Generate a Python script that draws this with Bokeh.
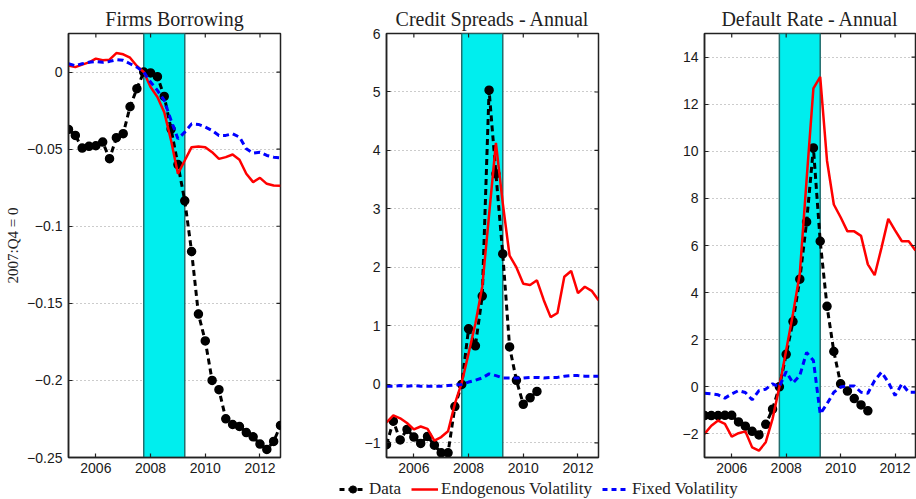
import math
from bokeh.plotting import figure
from bokeh.models import Range1d, FixedTicker, Legend, LegendItem
from bokeh.layouts import column, row
from bokeh.embed import file_html
from bokeh.resources import INLINE

nan = float("nan")

quarters = [2005.0, 2005.25, 2005.5, 2005.75, 2006.0, 2006.25, 2006.5, 2006.75,
            2007.0, 2007.25, 2007.5, 2007.75, 2008.0, 2008.25, 2008.5, 2008.75,
            2009.0, 2009.25, 2009.5, 2009.75, 2010.0, 2010.25, 2010.5, 2010.75,
            2011.0, 2011.25, 2011.5, 2011.75, 2012.0, 2012.25, 2012.5, 2012.75]

recession_start = [2007.75]
recession_end = [2009.25]

titles = ["Firms Borrowing", "Credit Spreads - Annual", "Default Rate - Annual"]
y_axis_label = "2007:Q4 = 0"
legend_labels = ["Data", "Endogenous Volatility", "Fixed Volatility"]

x_ticks = [2006, 2008, 2010, 2012]
x_tick_labels = ["2006", "2008", "2010", "2012"]

# Panel 1: Firms Borrowing
borrow_data = [-0.0372, -0.0411, -0.0493, -0.0482, -0.0478, -0.0454, -0.0562, -0.0426,
               -0.0400, -0.0225, -0.0108, 0.0, -0.0006, -0.0030, -0.0158, -0.0370,
               -0.0600, -0.0835, -0.1164, -0.1570, -0.1744, -0.2000, -0.2060, -0.2249,
               -0.2286, -0.2299, -0.2338, -0.2366, -0.2413, -0.2448, -0.2396, -0.2292]
borrow_endo = [0.0043, 0.0032, 0.0048, 0.0063, 0.0087, 0.0076, 0.0080, 0.0123,
               0.0115, 0.0093, 0.0039, 0.0, -0.0097, -0.0162, -0.0260, -0.0444,
               -0.0660, -0.0574, -0.0487, -0.0483, -0.0487, -0.0520, -0.0563, -0.0552,
               -0.0535, -0.0569, -0.0660, -0.0714, -0.0686, -0.0725, -0.0736, -0.0738]
borrow_fixed = [0.0054, 0.0041, 0.0054, 0.0063, 0.0069, 0.0063, 0.0069, 0.0080,
                0.0076, 0.0054, 0.0032, 0.0, -0.0065, -0.0119, -0.0184, -0.0314,
                -0.0433, -0.0390, -0.0336, -0.0340, -0.0357, -0.0379, -0.0411, -0.0411,
                -0.0400, -0.0422, -0.0498, -0.0526, -0.0520, -0.0541, -0.0552, -0.0556]
borrow_yrange = [-0.25, 0.025]
borrow_ticks = [-0.25, -0.2, -0.15, -0.1, -0.05, 0]
borrow_tick_labels = ["\u22120.25", "\u22120.2", "\u22120.15", "\u22120.1", "\u22120.05", "0"]

# Panel 2: Credit Spreads
spread_data = [-1.03, -0.63, -0.95, -0.77, -0.90, -1.01, -0.89, -1.04,
               -1.17, -1.17, -0.38, 0.0, 0.95, 0.66, 1.51, 5.03,
               3.60, 2.23, 0.64, 0.07, -0.34, -0.23, -0.12, nan,
               nan, nan, nan, nan, nan, nan, nan, nan]
spread_endo = [-0.65, -0.53, -0.58, -0.66, -0.77, -0.72, -0.76, -0.96,
               -0.90, -0.80, -0.33, 0.03, 0.53, 1.04, 1.67, 2.90,
               4.13, 3.10, 2.20, 2.00, 1.72, 1.70, 1.78, 1.44,
               1.15, 1.22, 1.84, 1.94, 1.56, 1.67, 1.60, 1.44]
spread_fixed = [-0.03, -0.03, -0.02, -0.03, -0.02, -0.03, -0.03, -0.03,
                -0.03, -0.02, -0.01, 0.0, 0.04, 0.07, 0.11, 0.18,
                0.15, 0.11, 0.11, 0.11, 0.11, 0.12, 0.12, 0.11,
                0.12, 0.12, 0.14, 0.15, 0.15, 0.14, 0.14, 0.14]
spread_yrange = [-1.25, 6]
spread_ticks = [-1, 0, 1, 2, 3, 4, 5, 6]
spread_tick_labels = ["\u22121", "0", "1", "2", "3", "4", "5", "6"]

# Panel 3: Default Rate
default_data = [-1.22, -1.22, -1.22, -1.21, -1.21, -1.49, -1.67, -1.89,
                -2.04, -1.59, -0.95, 0.0, 1.38, 2.77, 4.57, 7.00,
                10.14, 6.18, 3.42, 1.50, 0.13, -0.18, -0.50, -0.77,
                -1.02, nan, nan, nan, nan, nan, nan, nan]
default_endo = [-2.00, -1.65, -1.43, -1.57, -2.11, -1.97, -1.89, -2.57,
                -2.71, -2.35, -1.36, 0.0, 1.55, 3.10, 4.80, 8.80,
                12.67, 13.16, 9.60, 7.74, 7.20, 6.60, 6.60, 6.41,
                5.20, 4.74, 5.90, 7.13, 6.64, 6.18, 6.18, 5.79]
default_fixed = [-0.27, -0.30, -0.34, -0.48, -0.30, -0.16, -0.24, -0.55,
                 -0.16, -0.10, 0.13, 0.0, 0.65, 0.16, 0.48, 1.46,
                 1.12, -1.15, -0.72, -0.23, -0.01, 0.04, 0.04, -0.23,
                 -0.27, 0.27, 0.62, 0.20, -0.37, 0.13, -0.23, -0.23]
default_yrange = [-3, 15]
default_ticks = [-2, 0, 2, 4, 6, 8, 10, 12, 14]
default_tick_labels = ["\u22122", "0", "2", "4", "6", "8", "10", "12", "14"]

TICK_FONT = "Liberation Sans"
SERIF = "Liberation Serif"
DATA_COLOR = "black"
ENDO_COLOR = "#FF0000"
FIXED_COLOR = "#0000FF"
SHADE = "#00EEEE"
FRAME = "#222222"


def make_panel(title, data, endo, fixed, yr, yticks, ylabels, width, left, right, ylab=None):
    p = figure(width=width, height=478, output_backend="svg", toolbar_location=None,
               x_range=Range1d(quarters[0], quarters[-1]), y_range=Range1d(yr[0], yr[1]),
               min_border_left=left, min_border_right=right, min_border_top=33,
               min_border_bottom=21, title=title)
    p.title.text_font = SERIF
    p.title.text_font_size = "20px"
    p.title.text_font_style = "normal"
    p.title.align = "center"
    p.title.text_color = FRAME
    p.title.standoff = 7
    p.outline_line_color = FRAME
    p.outline_line_width = 1.5
    p.background_fill_color = "white"
    p.border_fill_color = "white"

    p.xgrid.grid_line_color = None
    p.ygrid.grid_line_color = "#999999"
    p.ygrid.grid_line_dash = "1 3"
    p.ygrid.grid_line_width = 1
    p.ygrid.ticker = FixedTicker(ticks=yticks)

    for ax in (p.xaxis[0], p.yaxis[0]):
        ax.major_tick_in = 4
        ax.major_tick_out = 0
        ax.minor_tick_line_color = None
        ax.axis_line_color = FRAME
        ax.axis_line_width = 1.5
        ax.major_tick_line_color = FRAME
        ax.major_tick_line_width = 1.2
        ax.major_label_text_font = TICK_FONT
        ax.major_label_text_font_size = "14px"
        ax.major_label_text_color = "#1a1a1a"
    p.xaxis.ticker = FixedTicker(ticks=x_ticks)
    p.xaxis.major_label_overrides = dict(zip(x_ticks, x_tick_labels))
    p.xaxis.major_label_standoff = 5
    p.yaxis.ticker = FixedTicker(ticks=yticks)
    p.yaxis.major_label_overrides = dict(zip(yticks, ylabels))
    p.yaxis.major_label_standoff = 6
    if ylab:
        p.yaxis.axis_label = ylab
        p.yaxis.axis_label_text_font = SERIF
        p.yaxis.axis_label_text_font_size = "15px"
        p.yaxis.axis_label_text_font_style = "normal"
        p.yaxis.axis_label_text_color = FRAME
        p.yaxis.axis_label_standoff = 3

    p.quad(left=recession_start, right=recession_end, bottom=[yr[0]], top=[yr[1]],
           fill_color=SHADE, line_color="#236e6e", line_width=1.5)

    p.line(quarters, data, line_color=DATA_COLOR, line_width=3, line_dash="6 4")
    p.scatter(quarters, data, marker="circle", size=8, fill_color=DATA_COLOR,
              line_color=DATA_COLOR, line_width=1.5)
    p.line(quarters, endo, line_color=ENDO_COLOR, line_width=2.5)
    p.line(quarters, fixed, line_color=FIXED_COLOR, line_width=3, line_dash="6 4")

    # mirrored inward tick marks on the top and right edges (half clipped by the frame)
    p.scatter(x=x_ticks, y=[yr[1]] * len(x_ticks), marker="dash", angle=math.pi / 2,
              size=8, line_color=FRAME, line_width=1.2)
    p.scatter(x=[quarters[-1]] * len(yticks), y=yticks, marker="dash",
              size=8, line_color=FRAME, line_width=1.2)
    return p


p1 = make_panel(titles[0], borrow_data, borrow_endo, borrow_fixed, borrow_yrange,
                borrow_ticks, borrow_tick_labels, 310, 68, 30, ylab=y_axis_label)
p2 = make_panel(titles[1], spread_data, spread_endo, spread_fixed, spread_yrange,
                spread_ticks, spread_tick_labels, 308, 76, 20)
p3 = make_panel(titles[2], default_data, default_endo, default_fixed, default_yrange,
                default_ticks, default_tick_labels, 298, 86, 1)

# Legend strip: renderers hold the real series but lie outside this strip's view
pl = figure(width=916, height=21, output_backend="svg", toolbar_location=None,
            x_range=Range1d(0, 1), y_range=Range1d(0, 1),
            x_axis_type=None, y_axis_type=None,
            min_border_left=0, min_border_right=0, min_border_top=0, min_border_bottom=0)
pl.outline_line_color = None
pl.xgrid.grid_line_color = None
pl.ygrid.grid_line_color = None
r_data_line = pl.line(quarters, borrow_data, line_color=DATA_COLOR, line_width=3, line_dash="5 4")
r_data_pts = pl.scatter(quarters, borrow_data, marker="circle", size=8,
                        fill_color=DATA_COLOR, line_color=DATA_COLOR)
r_endo = pl.line(quarters, borrow_endo, line_color=ENDO_COLOR, line_width=2.5)
r_fixed = pl.line(quarters, borrow_fixed, line_color=FIXED_COLOR, line_width=3, line_dash="5 4")
legend = Legend(items=[LegendItem(label=legend_labels[0], renderers=[r_data_line, r_data_pts]),
                       LegendItem(label=legend_labels[1], renderers=[r_endo]),
                       LegendItem(label=legend_labels[2], renderers=[r_fixed])],
                orientation="horizontal", location=(339, 0), padding=0, margin=0, spacing=10,
                glyph_width=27, glyph_height=18, label_standoff=3, label_height=18,
                label_text_font=SERIF, label_text_font_size="17px", label_text_color=FRAME,
                border_line_color=None, background_fill_alpha=0)
pl.add_layout(legend)

layout = column(row(p1, p2, p3), pl)
open("out.html", "w").write(file_html(layout, INLINE))
